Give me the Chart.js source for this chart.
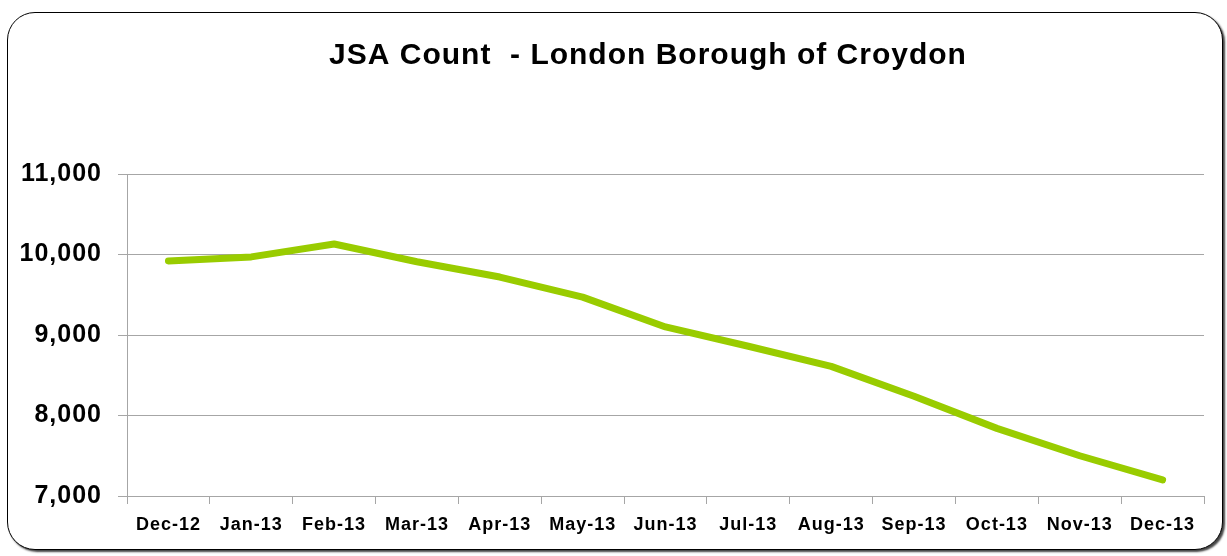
<!DOCTYPE html>
<html>
<head>
<meta charset="utf-8">
<script src="https://cdn.jsdelivr.net/npm/chart.js@4/dist/chart.umd.min.js"></script>
<style>
  html, body { margin: 0; padding: 0; background: #fff; }
  #wrap { position: relative; width: 1227px; height: 556px; overflow: hidden; }
  #frame {
    position: absolute; left: 7px; top: 12px; width: 1214px; height: 536px;
    border: 1px solid #000; border-radius: 28px;
    box-shadow: 2px 2px 2px #444;
    background: #fff;
  }
  #chart { position: absolute; left: 0; top: 0; }
</style>
</head>
<body>
<div id="wrap">
  <div id="frame"></div>
  <canvas id="chart" width="1227" height="556"></canvas>
</div>
<script>
const chartTitle = 'JSA Count  - London Borough of Croydon';
const months = ["Dec-12", "Jan-13", "Feb-13", "Mar-13", "Apr-13", "May-13", "Jun-13",
                "Jul-13", "Aug-13", "Sep-13", "Oct-13", "Nov-13", "Dec-13"];
const jsaCount = [9920, 9970, 10130, 9910, 9720, 9470, 9100, 8860, 8610, 8240, 7840, 7500, 7200];
const yMin = 7000;
const yMax = 11000;
const yStep = 1000;

const gridGrey = '#a6a6a6';
const fontFamily = 'Liberation Sans, Arial, sans-serif';

// title sits off-centre in the original, so draw it ourselves
const titlePlugin = {
    id: 'offsetTitle',
    beforeDraw(chart) {
        chart.ctx.letterSpacing = '1px';
    },
    afterDraw(chart) {
        const c = chart.ctx;
        c.save();
        c.letterSpacing = '1px';
        c.font = 'bold 30px ' + fontFamily;
        c.fillStyle = '#000';
        c.textAlign = 'center';
        c.textBaseline = 'middle';
        c.fillText(chartTitle, 648, 56);
        c.restore();
    }
};

const ctx = document.getElementById('chart').getContext('2d');
new Chart(ctx, {
    type: 'line',
    data: {
        labels: months,
        datasets: [{
            label: 'JSA Count',
            data: jsaCount,
            borderColor: '#99cc00',
            borderWidth: 7,
            borderCapStyle: 'round',
            borderJoinStyle: 'round',
            pointRadius: 0,
            fill: false,
            tension: 0
        }]
    },
    plugins: [titlePlugin],
    options: {
        responsive: false,
        animation: false,
        layout: { padding: { left: 0, right: 23, top: 174, bottom: 0 } },
        plugins: {
            legend: { display: false },
            tooltip: { enabled: false },
            title: { display: false }
        },
        scales: {
            x: {
                offset: true,
                grid: {
                    offset: true,
                    drawOnChartArea: false,
                    color: gridGrey,
                    tickLength: 8
                },
                border: { color: gridGrey, width: 1 },
                ticks: {
                    color: '#000',
                    padding: 10,
                    maxRotation: 0,
                    autoSkip: false,
                    font: { family: fontFamily, size: 18, weight: 'bold' }
                },
                afterFit: (s) => { s.height = 60; }
            },
            y: {
                min: yMin,
                max: yMax,
                grid: { color: gridGrey, tickLength: 9 },
                border: { color: gridGrey, width: 1 },
                ticks: {
                    stepSize: yStep,
                    color: '#000',
                    padding: 16,
                    font: { family: fontFamily, size: 25, weight: 'bold' },
                    callback: (v) => v.toLocaleString('en-GB')
                },
                afterFit: (s) => { s.width = 127; }
            }
        }
    }
});
</script>
</body>
</html>
